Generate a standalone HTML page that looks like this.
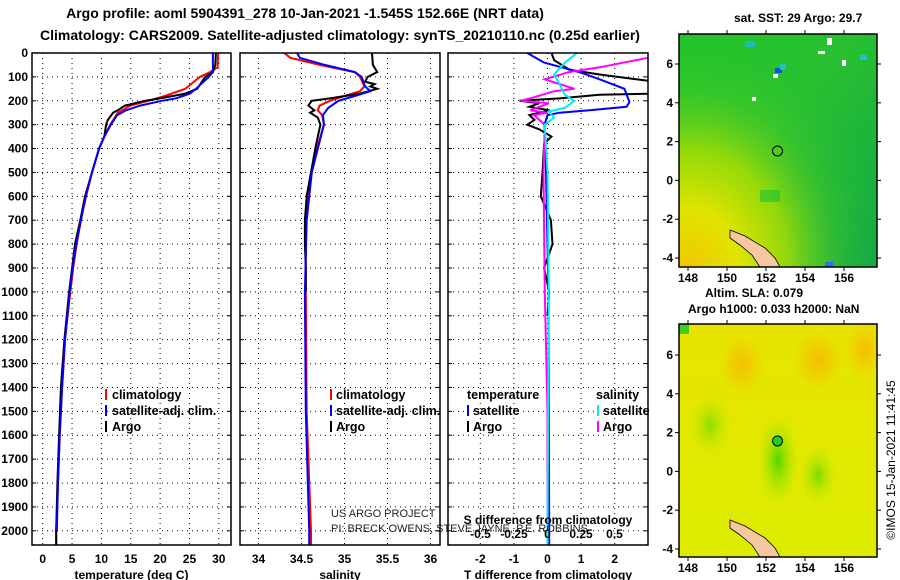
<!DOCTYPE html>
<html><head><meta charset="utf-8"><style>
body{margin:0;background:#fff;}
svg{display:block;font-family:"Liberation Sans",sans-serif;font-weight:bold;}
</style></head><body>
<svg id="c" width="900" height="580" viewBox="0 0 900 580" xmlns="http://www.w3.org/2000/svg">
<defs>
<linearGradient id="sstA" x1="0" y1="0" x2="1" y2="1">
<stop offset="0" stop-color="#22c52a"/><stop offset="0.45" stop-color="#28c030"/><stop offset="1" stop-color="#10a848"/></linearGradient>
<radialGradient id="sstY" cx="0.05" cy="1" r="1.0">
<stop offset="0" stop-color="#f0c800"/><stop offset="0.25" stop-color="#e0e400"/><stop offset="0.5" stop-color="#b0e000" stop-opacity="0.8"/><stop offset="0.75" stop-color="#60d020" stop-opacity="0.3"/><stop offset="1" stop-color="#30c030" stop-opacity="0"/></radialGradient>
<linearGradient id="slaA" x1="0" y1="0" x2="0" y2="1">
<stop offset="0" stop-color="#e8e400"/><stop offset="1" stop-color="#dcec00"/></linearGradient>
<radialGradient id="slaO1" cx="0.5" cy="0.5" r="0.5"><stop offset="0" stop-color="#f4c000"/><stop offset="1" stop-color="#f4c000" stop-opacity="0"/></radialGradient>
<radialGradient id="slaG1" cx="0.5" cy="0.5" r="0.5"><stop offset="0" stop-color="#50d800"/><stop offset="1" stop-color="#a8e400" stop-opacity="0"/></radialGradient>
<clipPath id="cp1"><rect x="32" y="53" width="199" height="492"/></clipPath>
<clipPath id="cp2"><rect x="240" y="53" width="200" height="492"/></clipPath>
<clipPath id="cp3"><rect x="448" y="53" width="200" height="492"/></clipPath>
<clipPath id="cpm1"><rect x="679" y="34" width="198" height="233"/></clipPath>
<clipPath id="cpm2"><rect x="679" y="324" width="198" height="233"/></clipPath>
</defs>
<text x="305" y="18" text-anchor="middle" font-size="14">Argo profile: aoml 5904391_278 10-Jan-2021 -1.545S 152.66E (NRT data)</text>
<text x="340" y="40" text-anchor="middle" font-size="14">Climatology: CARS2009. Satellite-adjusted climatology: synTS_20210110.nc (0.25d earlier)</text>
<g id="grids"></g>
<g id="series"></g>
<g id="frames"></g>
<g id="labels" font-size="12"></g>

<!-- legends -->
<g font-size="12.5">
<rect x="105" y="389" width="2" height="11" fill="#f00"/><text x="112" y="399">climatology</text>
<rect x="105" y="405" width="2" height="11" fill="#00f"/><text x="112" y="415">satellite-adj. clim.</text>
<rect x="105" y="421" width="2" height="11" fill="#000"/><text x="112" y="431">Argo</text>
</g>
<g font-size="12.5">
<rect x="330" y="389" width="2" height="11" fill="#f00"/><text x="336" y="399">climatology</text>
<rect x="330" y="405" width="2" height="11" fill="#00f"/><text x="336" y="415">satellite-adj. clim.</text>
<rect x="330" y="421" width="2" height="11" fill="#000"/><text x="336" y="431">Argo</text>
</g>
<g font-size="12.5">
<text x="467" y="399">temperature</text><text x="596" y="399">salinity</text>
<rect x="467" y="405" width="2" height="11" fill="#00f"/><text x="473" y="415">satellite</text>
<rect x="467" y="421" width="2" height="11" fill="#000"/><text x="473" y="431">Argo</text>
<rect x="597" y="405" width="2" height="11" fill="#0ee"/><text x="603" y="415">satellite</text>
<rect x="597" y="421" width="2" height="11" fill="#f0f"/><text x="603" y="431">Argo</text>
</g>
<g font-size="11" font-weight="normal" fill="#222">
<text x="331" y="517">US ARGO PROJECT</text>
<text x="331" y="532">PI: BRECK OWENS, STEVE JAYNE, P.E. ROBBINS</text>
</g>
<text x="548" y="524" text-anchor="middle" font-size="12">S difference from climatology</text>

<!-- maps -->
<g clip-path="url(#cpm1)">
<rect x="679" y="34" width="198" height="233" fill="url(#sstA)"/>
<rect x="679" y="34" width="198" height="233" fill="url(#sstY)"/>
<rect x="760" y="190" width="20" height="12" fill="#00c040" opacity="0.5"/>
<rect x="775" y="68" width="7" height="5" fill="#1050e0"/><rect x="773" y="74" width="5" height="4" fill="#fff"/>
<rect x="827" y="38" width="5" height="7" fill="#fff"/><rect x="818" y="51" width="7" height="3" fill="#fff"/>
<rect x="842" y="60" width="4" height="6" fill="#fff"/><rect x="752" y="97" width="4" height="4" fill="#fff"/>
<rect x="780" y="64" width="6" height="6" fill="#20c0c0"/><rect x="745" y="41" width="10" height="6" fill="#20b8b8"/>
<rect x="860" y="55" width="7" height="5" fill="#20c0d0"/><rect x="825" y="262" width="8" height="5" fill="#3070f0"/>
<path d="M730 230 L745 236 L765 248 L775 258 L780 267 L760 267 L752 255 L740 245 L730 238 Z" fill="#f6c8a0" stroke="#000" stroke-width="0.8"/>
<circle cx="777.5" cy="151" r="5" fill="none" stroke="#000" stroke-width="1"/>
</g>
<g clip-path="url(#cpm2)">
<rect x="679" y="324" width="198" height="233" fill="url(#slaA)"/>
<ellipse cx="742" cy="365" rx="22" ry="30" fill="url(#slaO1)"/>
<ellipse cx="818" cy="360" rx="25" ry="30" fill="url(#slaO1)"/>
<ellipse cx="865" cy="350" rx="20" ry="30" fill="url(#slaO1)"/>
<ellipse cx="710" cy="425" rx="20" ry="30" fill="url(#slaG1)" opacity="0.6"/>
<ellipse cx="778" cy="460" rx="20" ry="45" fill="url(#slaG1)"/>
<ellipse cx="818" cy="475" rx="18" ry="30" fill="url(#slaG1)" opacity="0.7"/>
<rect x="679" y="324" width="10" height="10" fill="#40d020"/>
<path d="M730 520 L745 526 L765 538 L775 548 L780 557 L760 557 L752 545 L740 535 L730 528 Z" fill="#f6c8a0" stroke="#000" stroke-width="0.8"/>
<circle cx="777.5" cy="441" r="5" fill="#20d020" stroke="#000" stroke-width="1"/>
</g>
<g id="mapaxes" font-size="12"></g>
<text x="734" y="22" font-size="12">sat. SST: 29 Argo: 29.7</text>
<text x="705" y="297" font-size="12">Altim. SLA: 0.079</text>
<text x="688" y="313" font-size="12">Argo h1000: 0.033 h2000: NaN</text>
<text transform="translate(895,460) rotate(-90)" text-anchor="middle" font-size="12" font-weight="normal">©IMOS 15-Jan-2021 11:41:45</text>
</svg>
<script>
// ---- data ----
const depthTicks=[0,100,200,300,400,500,600,700,800,900,1000,1100,1200,1300,1400,1500,1600,1700,1800,1900,2000];
const tTicks=[0,5,10,15,20,25,30];
const sTicks=[34,34.5,35,35.5,36];
const dTicks=[-2,-1,0,1,2];
const sdTicks=[-0.5,-0.25,0,0.25,0.5];
const sdTickLabels=["-0.5","-0.25","0","0.25","0.5"];
const tArgoDepth=[0,50,80,100,150,170,190,200,220,240,250,280,300,350,400,500,600,700,800,900,1000,1200,1400,1600,1800,2000,2060];
const tArgo=[29.5,29.4,29.0,27.7,26.3,24.3,20,17.4,14,12.8,12,11.1,10.8,10.5,9.6,8.4,7.2,6.4,5.5,5.0,4.5,3.7,3.1,2.8,2.5,2.3,2.3];
const tClimDepth=[0,60,80,100,150,180,200,220,250,300,350,400,500,600,700,800,900,1000,1200,1400,1600,1800,2000,2060];
const tClim=[29.9,29.8,28.5,26.8,24.3,20.8,18,14.9,12.8,11.5,10.5,9.6,8.4,7.4,6.5,5.8,5.2,4.7,3.8,3.3,2.9,2.6,2.3,2.3];
const tSatDepth=[0,80,100,150,170,190,200,220,240,260,300,350,400,500,600,700,800,900,1000,1200,1400,1600,1800,2000];
const tSat=[29.0,29.0,28.3,26.1,25.1,22.7,20.3,16.6,14.2,12.7,11.6,10.5,9.6,8.4,7.3,6.5,5.7,5.1,4.6,3.8,3.3,2.9,2.6,2.4];
const sArgoDepth=[0,50,80,100,120,130,140,150,170,190,200,220,240,250,270,300,350,400,500,600,700,800,900,1000];
const sArgo=[35.32,35.33,35.38,35.27,35.24,35.35,35.30,35.38,35.18,34.83,34.62,34.58,34.65,34.60,34.69,34.72,34.69,34.66,34.61,34.56,34.54,34.54,34.55,34.55];
const sClimDepth=[0,20,50,80,100,140,160,180,200,220,240,260,300,400,500,600,700,1000,1500,2000,2060];
const sClim=[34.30,34.37,34.71,35.12,35.18,35.23,35.18,35.00,34.83,34.71,34.69,34.74,34.76,34.68,34.61,34.58,34.55,34.55,34.56,34.61,34.61];
const sSatDepth=[0,20,50,80,100,140,160,180,200,230,260,300,400,500,700,1000,1500,2000,2060];
const sSat=[34.45,34.48,34.77,35.12,35.20,35.24,35.30,35.12,34.93,34.81,34.75,34.76,34.69,34.62,34.56,34.54,34.55,34.59,34.59];
const dTSatDepth=[0,40,80,110,150,205,225,240,250,260,300,400,600,800,1000,2000,2060];
const dTSat=[-0.6,-0.1,0.95,1.55,2.29,2.44,2.35,1.25,0.36,0,-0.09,-0.06,-0.03,0.0,0.03,0.05,0.05];
const dTArgoDepth=[0,30,70,90,120,170,175,190,200,210,225,240,260,280,300,320,350,380,500,600,700,800,900,1000,1100];
const dTArgo=[0.12,0.2,0.65,1.55,3.2,3.2,1.55,0.36,-0.83,-0.24,-0.54,0.06,-0.54,-0.39,-0.6,-0.24,0.12,-0.1,-0.15,-0.2,0.1,0.15,-0.1,0.05,0];
const dSSatDepth=[0,40,90,130,175,200,230,245,270,300,500,1000,2000,2060];
const dSSat=[0.22,0.13,0.05,0.09,0.13,0.2,0.13,0.01,0.05,-0.02,0,0.01,0,0];
const dSArgoDepth=[20,60,80,110,130,150,160,190,200,210,240,250,260,300,500,1000,1500,2000,2060];
const dSArgo=[0.75,0.39,0.16,-0.02,0.09,0.2,0.05,-0.13,-0.2,0.01,-0.13,0,-0.1,-0.02,-0.03,-0.02,0,0,0];
const mapLonTicks=[148,150,152,154,156];
const mapLatTicks=[-4,-2,0,2,4,6];

// ---- axes ----
const Y=d=>53+d*0.2389;
const XT=v=>42.7+v*5.87;
const XS=v=>258.5+(v-34)*86;
const XD=v=>547.5+v*33.6;
const XSD=v=>547.5+v*134;
const NS='http://www.w3.org/2000/svg';
function el(tag,attrs,parent){const e=document.createElementNS(NS,tag);for(const k in attrs)e.setAttribute(k,attrs[k]);parent.appendChild(e);return e;}
const grids=document.getElementById('grids'),series=document.getElementById('series'),frames=document.getElementById('frames'),labels=document.getElementById('labels');
const panels=[{x0:32,x1:231,ticks:tTicks,X:XT,lab:tTicks.map(String),title:'temperature (deg C)',name:'temperature'},
{x0:240,x1:440,ticks:sTicks,X:XS,lab:["34","34.5","35","35.5","36"],title:'salinity',name:'salinity'},
{x0:448,x1:648,ticks:dTicks,X:XD,lab:dTicks.map(String),title:'T difference from climatology',name:'difference'}];
panels.forEach(p=>{
  depthTicks.forEach(d=>{
    const l=el('line',{x1:p.x0,x2:p.x1,y1:Y(d),y2:Y(d),stroke:'#000','stroke-width':1,'stroke-dasharray':'1 4'},grids);
    
    
    el('line',{x1:p.x0,x2:p.x0+4,y1:Y(d),y2:Y(d),stroke:'#000'},grids);
    el('line',{x1:p.x1-4,x2:p.x1,y1:Y(d),y2:Y(d),stroke:'#000'},grids);
  });
  p.ticks.forEach((v,i)=>{
    const l=el('line',{x1:p.X(v),x2:p.X(v),y1:53,y2:545,stroke:'#000','stroke-width':1,'stroke-dasharray':'1 4'},grids);
    
    
    const t=el('text',{x:p.X(v),y:563,'text-anchor':'middle'},labels);t.textContent=p.lab[i];
    
    
  });
  const f=el('rect',{x:p.x0,y:53,width:p.x1-p.x0,height:492,fill:'none',stroke:'#000','stroke-width':1.5},frames);
  
  
  const tt=el('text',{x:(p.x0+p.x1)/2,y:579,'text-anchor':'middle'},labels);tt.textContent=p.title;
  
  
});
depthTicks.forEach(d=>{
  const t=el('text',{x:28,y:Y(d)+4,'text-anchor':'end'},labels);t.textContent=String(d);
  
  
});
sdTicks.forEach((v,i)=>{
  const t=el('text',{x:XSD(v),y:538,'text-anchor':'middle'},labels);t.textContent=sdTickLabels[i];
  
  
});
function line(depths,vals,X,color,clip,name,w){
  const pts=depths.map((d,i)=>X(vals[i]).toFixed(1)+','+Y(d).toFixed(1)).join(' ');
  const pl=el('polyline',{points:pts,fill:'none',stroke:color,'stroke-width':w||2,'clip-path':'url(#'+clip+')'},series);
  
  
}
line(tClimDepth,tClim,XT,'#f00','cp1','temperature-climatology-line');
line(tArgoDepth,tArgo,XT,'#000','cp1','temperature-argo-line');
line(tSatDepth,tSat,XT,'#00f','cp1','temperature-satellite-line');
line(sClimDepth,sClim,XS,'#f00','cp2','salinity-climatology-line');
line(sArgoDepth,sArgo,XS,'#000','cp2','salinity-argo-line');
line(sSatDepth,sSat,XS,'#00f','cp2','salinity-satellite-line');
line(dTArgoDepth,dTArgo,XD,'#000','cp3','t-diff-argo-line');
line(dTSatDepth,dTSat,XD,'#00f','cp3','t-diff-satellite-line');
line(dSArgoDepth,dSArgo,XSD,'#f0f','cp3','s-diff-argo-line');
line(dSSatDepth,dSSat,XSD,'#0ee','cp3','s-diff-satellite-line');

// map axes
const mapAxes=document.getElementById('mapaxes');
const LON=v=>688+(v-148)*19.5;
[[34,267,64,'sst'],[324,557,355,'sla']].forEach(([top,bot,lat6,nm])=>{
  const LAT=v=>lat6-(v-6)*19.4;
  const fr=el('rect',{x:679,y:top,width:198,height:bot-top,fill:'none',stroke:'#000','stroke-width':1.5},mapAxes);
  
  
  mapLonTicks.forEach(v=>{
    el('line',{x1:LON(v),x2:LON(v),y1:top-4,y2:top,stroke:'#000'},mapAxes);
    el('line',{x1:LON(v),x2:LON(v),y1:bot,y2:bot+4,stroke:'#000'},mapAxes);
    const t=el('text',{x:LON(v),y:bot+15,'text-anchor':'middle'},mapAxes);t.textContent=String(v);
    
    
  });
  mapLatTicks.forEach(v=>{
    el('line',{x1:675,x2:679,y1:LAT(v),y2:LAT(v),stroke:'#000'},mapAxes);
    el('line',{x1:877,x2:881,y1:LAT(v),y2:LAT(v),stroke:'#000'},mapAxes);
    const t=el('text',{x:673,y:LAT(v)+4,'text-anchor':'end'},mapAxes);t.textContent=String(v);
    
    
  });
});
</script>
</body></html>
